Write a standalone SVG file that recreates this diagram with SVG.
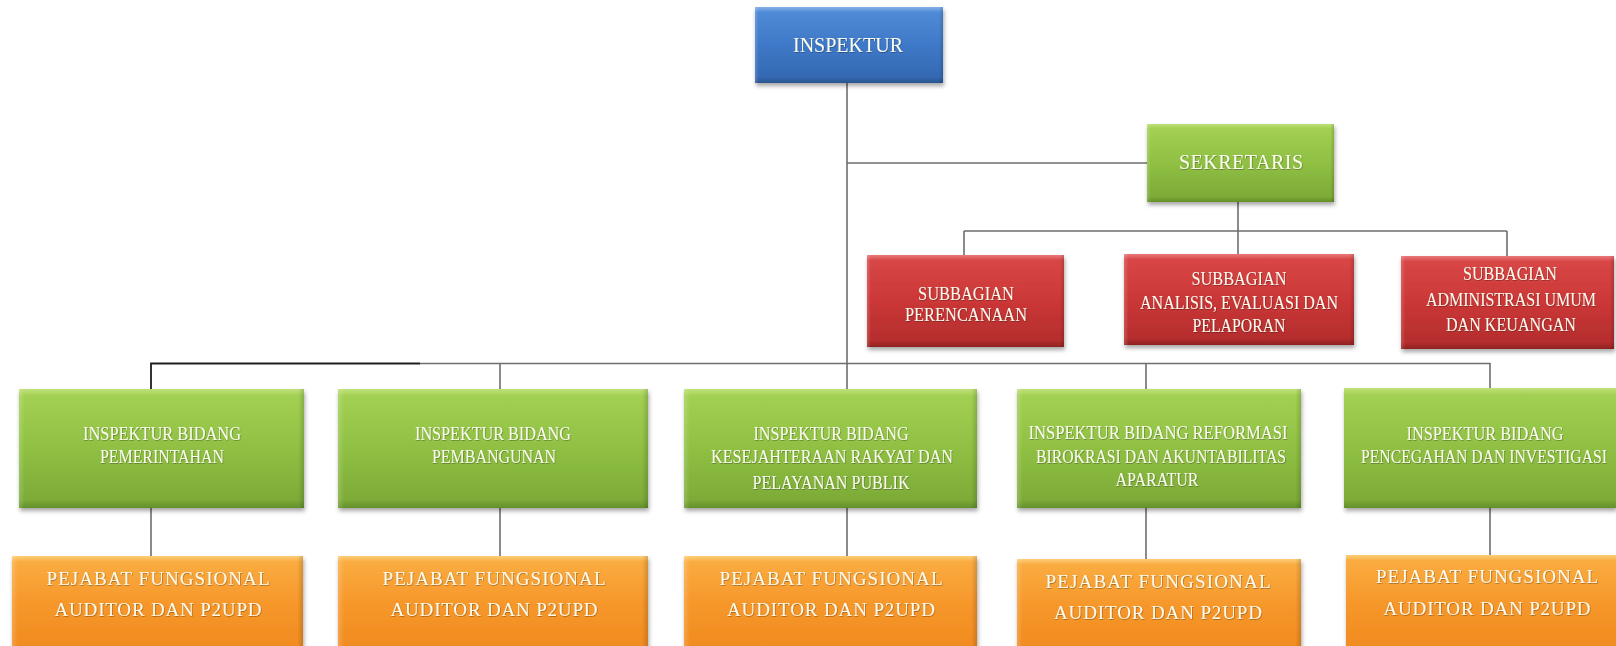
<svg xmlns="http://www.w3.org/2000/svg" width="1616" height="646" viewBox="0 0 1616 646">
<defs>
<linearGradient id="gBlue" x1="0" y1="0" x2="0" y2="1">
<stop offset="0" stop-color="#86b1e8"/><stop offset="0.07" stop-color="#4f8ad6"/><stop offset="0.5" stop-color="#3e79c7"/><stop offset="0.92" stop-color="#3469b2"/><stop offset="1" stop-color="#28558f"/>
</linearGradient>
<linearGradient id="gGreen" x1="0" y1="0" x2="0" y2="1">
<stop offset="0" stop-color="#bfe17a"/><stop offset="0.06" stop-color="#a2d052"/><stop offset="0.5" stop-color="#8fc043"/><stop offset="0.93" stop-color="#7dab38"/><stop offset="1" stop-color="#62902a"/>
</linearGradient>
<linearGradient id="gRed" x1="0" y1="0" x2="0" y2="1">
<stop offset="0" stop-color="#ea7a7a"/><stop offset="0.06" stop-color="#d84646"/><stop offset="0.5" stop-color="#cb3737"/><stop offset="0.93" stop-color="#b52d2d"/><stop offset="1" stop-color="#8f2222"/>
</linearGradient>
<linearGradient id="gOrange" x1="0" y1="0" x2="0" y2="1">
<stop offset="0" stop-color="#fdcf7a"/><stop offset="0.06" stop-color="#faac40"/><stop offset="0.5" stop-color="#f6972b"/><stop offset="1" stop-color="#f08a1e"/>
</linearGradient>
<linearGradient id="gSide" x1="0" y1="0" x2="1" y2="0">
<stop offset="0" stop-color="#fff" stop-opacity="0.18"/><stop offset="0.02" stop-color="#fff" stop-opacity="0"/><stop offset="0.98" stop-color="#000" stop-opacity="0"/><stop offset="1" stop-color="#000" stop-opacity="0.15"/>
</linearGradient>
<filter id="shadow" x="-5%" y="-10%" width="110%" height="125%">
<feDropShadow dx="1" dy="3" stdDeviation="2" flood-color="#000" flood-opacity="0.35"/>
</filter>
<filter id="tshadow" x="-5%" y="-20%" width="110%" height="140%">
<feDropShadow dx="0.6" dy="0.8" stdDeviation="0.5" flood-color="#000" flood-opacity="0.35"/>
</filter>
</defs>
<style>
.blue{fill:url(#gBlue);filter:url(#shadow)}
.green{fill:url(#gGreen);filter:url(#shadow)}
.red{fill:url(#gRed);filter:url(#shadow)}
.orange{fill:url(#gOrange);filter:url(#shadow)}
.side{fill:url(#gSide)}
.mono{font-family:"Liberation Serif","DejaVu Serif",serif;fill:#fbfbef;text-anchor:middle;filter:url(#tshadow)}
.serif{font-family:"Liberation Serif","DejaVu Serif",serif;fill:#fbfbef;text-anchor:middle;font-size:18px;filter:url(#tshadow)}
.ln{stroke:#6e6e6e;stroke-width:1.6;fill:none}
.lnd{stroke:#1e1e1e;stroke-width:1.8;fill:none}
</style>
<rect width="1616" height="646" fill="#ffffff"/>

<g id="connectors">
<path class="ln" d="M847 83 V389"/>
<path class="ln" d="M847 163 H1147"/>
<path class="ln" d="M1238 202 V231"/>
<path class="ln" d="M964 231 H1507 M964 231 V255 M1238 231 V254 M1507 231 V256"/>
<path class="lnd" d="M151 389 V363.5 H420"/>
<path class="ln" d="M420 363.5 H1490 V388 M500 363.5 V389 M1146 363.5 V389"/>
<path class="ln" d="M151 508 V556 M500 508 V556 M847 508 V556 M1146 508 V559 M1490 508 V555"/>
</g>

<g id="inspektur">
<rect class="blue" x="755" y="7" width="188" height="76"/><rect class="side" x="755" y="7" width="188" height="76"/>
<text class="mono" x="848" y="52" font-size="20" textLength="110" lengthAdjust="spacing">INSPEKTUR</text>
</g>

<g id="sekretaris">
<rect class="green" x="1147" y="124" width="187" height="78"/><rect class="side" x="1147" y="124" width="187" height="78"/>
<text class="mono" x="1241" y="169" font-size="20" textLength="124" lengthAdjust="spacing">SEKRETARIS</text>
</g>

<g id="sub-perencanaan">
<rect class="red" x="867" y="255" width="197" height="92"/><rect class="side" x="867" y="255" width="197" height="92"/>
<text class="serif" x="966" y="300" textLength="96" lengthAdjust="spacingAndGlyphs">SUBBAGIAN</text>
<text class="serif" x="966" y="321" textLength="122" lengthAdjust="spacingAndGlyphs">PERENCANAAN</text>
</g>

<g id="sub-analisis">
<rect class="red" x="1124" y="254" width="230" height="91"/><rect class="side" x="1124" y="254" width="230" height="91"/>
<text class="serif" x="1239" y="285" textLength="95" lengthAdjust="spacingAndGlyphs">SUBBAGIAN</text>
<text class="serif" x="1239" y="309" textLength="198" lengthAdjust="spacingAndGlyphs">ANALISIS, EVALUASI DAN</text>
<text class="serif" x="1239" y="332" textLength="93" lengthAdjust="spacingAndGlyphs">PELAPORAN</text>
</g>

<g id="sub-administrasi">
<rect class="red" x="1401" y="256" width="213" height="93"/><rect class="side" x="1401" y="256" width="213" height="93"/>
<text class="serif" x="1510" y="280" textLength="94" lengthAdjust="spacingAndGlyphs">SUBBAGIAN</text>
<text class="serif" x="1511" y="306" textLength="170" lengthAdjust="spacingAndGlyphs">ADMINISTRASI UMUM</text>
<text class="serif" x="1511" y="331" textLength="130" lengthAdjust="spacingAndGlyphs">DAN KEUANGAN</text>
</g>

<g id="ib-pemerintahan">
<rect class="green" x="19" y="389" width="285" height="119"/><rect class="side" x="19" y="389" width="285" height="119"/>
<text class="serif" x="162" y="440" textLength="158" lengthAdjust="spacingAndGlyphs">INSPEKTUR BIDANG</text>
<text class="serif" x="162" y="463" textLength="124" lengthAdjust="spacingAndGlyphs">PEMERINTAHAN</text>
</g>

<g id="ib-pembangunan">
<rect class="green" x="338" y="389" width="310" height="119"/><rect class="side" x="338" y="389" width="310" height="119"/>
<text class="serif" x="493" y="440" textLength="156" lengthAdjust="spacingAndGlyphs">INSPEKTUR BIDANG</text>
<text class="serif" x="494" y="463" textLength="124" lengthAdjust="spacingAndGlyphs">PEMBANGUNAN</text>
</g>

<g id="ib-kesra">
<rect class="green" x="684" y="389" width="293" height="119"/><rect class="side" x="684" y="389" width="293" height="119"/>
<text class="serif" x="831" y="440" textLength="155" lengthAdjust="spacingAndGlyphs">INSPEKTUR BIDANG</text>
<text class="serif" x="832" y="463" textLength="242" lengthAdjust="spacingAndGlyphs">KESEJAHTERAAN RAKYAT DAN</text>
<text class="serif" x="831" y="489" textLength="157" lengthAdjust="spacingAndGlyphs">PELAYANAN PUBLIK</text>
</g>

<g id="ib-reformasi">
<rect class="green" x="1017" y="389" width="284" height="119"/><rect class="side" x="1017" y="389" width="284" height="119"/>
<text class="serif" x="1158" y="439" textLength="259" lengthAdjust="spacingAndGlyphs">INSPEKTUR BIDANG REFORMASI</text>
<text class="serif" x="1161" y="463" textLength="250" lengthAdjust="spacingAndGlyphs">BIROKRASI DAN AKUNTABILITAS</text>
<text class="serif" x="1157" y="486" textLength="83" lengthAdjust="spacingAndGlyphs">APARATUR</text>
</g>

<g id="ib-pencegahan">
<rect class="green" x="1344" y="388" width="272" height="120"/>
<text class="serif" x="1485" y="440" textLength="157" lengthAdjust="spacingAndGlyphs">INSPEKTUR BIDANG</text>
<text class="serif" x="1484" y="463" textLength="246" lengthAdjust="spacingAndGlyphs">PENCEGAHAN DAN INVESTIGASI</text>
</g>

<g id="pf-1">
<rect class="orange" x="12" y="556" width="291" height="96"/><rect class="side" x="12" y="556" width="291" height="96"/>
<text class="mono" x="158" y="585" font-size="19" textLength="223" lengthAdjust="spacing">PEJABAT FUNGSIONAL</text>
<text class="mono" x="158" y="616" font-size="19" textLength="207" lengthAdjust="spacing">AUDITOR DAN P2UPD</text>
</g>

<g id="pf-2">
<rect class="orange" x="338" y="556" width="310" height="96"/><rect class="side" x="338" y="556" width="310" height="96"/>
<text class="mono" x="494" y="585" font-size="19" textLength="223" lengthAdjust="spacing">PEJABAT FUNGSIONAL</text>
<text class="mono" x="494" y="616" font-size="19" textLength="207" lengthAdjust="spacing">AUDITOR DAN P2UPD</text>
</g>

<g id="pf-3">
<rect class="orange" x="684" y="556" width="293" height="96"/><rect class="side" x="684" y="556" width="293" height="96"/>
<text class="mono" x="831" y="585" font-size="19" textLength="223" lengthAdjust="spacing">PEJABAT FUNGSIONAL</text>
<text class="mono" x="831" y="616" font-size="19" textLength="208" lengthAdjust="spacing">AUDITOR DAN P2UPD</text>
</g>

<g id="pf-4">
<rect class="orange" x="1017" y="559" width="284" height="93"/><rect class="side" x="1017" y="559" width="284" height="93"/>
<text class="mono" x="1158" y="588" font-size="19" textLength="225" lengthAdjust="spacing">PEJABAT FUNGSIONAL</text>
<text class="mono" x="1158" y="619" font-size="19" textLength="208" lengthAdjust="spacing">AUDITOR DAN P2UPD</text>
</g>

<g id="pf-5">
<rect class="orange" x="1346" y="555" width="270" height="97"/>
<text class="mono" x="1487" y="583" font-size="19" textLength="222" lengthAdjust="spacing">PEJABAT FUNGSIONAL</text>
<text class="mono" x="1487" y="615" font-size="19" textLength="207" lengthAdjust="spacing">AUDITOR DAN P2UPD</text>
</g>
</svg>
